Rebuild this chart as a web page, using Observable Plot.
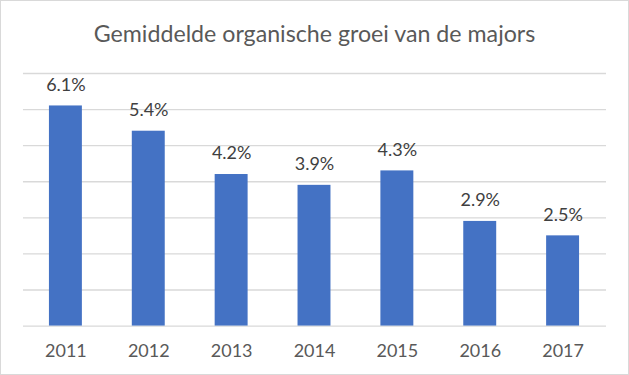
<!DOCTYPE html>
<html>
<head>
<meta charset="utf-8">
<script src="https://cdn.jsdelivr.net/npm/d3@7"></script>
<script src="https://cdn.jsdelivr.net/npm/@observablehq/plot@0.6"></script>
<style>
  html, body { margin: 0; padding: 0; background: #fff; }
  #wrap { position: relative; width: 629px; height: 375px; box-sizing: border-box; border: 1px solid #d9d9d9; background: #fff; overflow: hidden; }
  #title { position: absolute; left: 0; top: 18px; width: 627px; text-align: center; font-family: Lato, "Open Sans", sans-serif; font-size: 23.2px; color: #595959; }
  #chart { position: absolute; left: -1px; top: 59px; }
</style>
</head>
<body>
<div id="wrap">
  <div id="title">Gemiddelde organische groei van de majors</div>
  <div id="chart"></div>
</div>
<script>
const years = ["2011", "2012", "2013", "2014", "2015", "2016", "2017"];
const growth = [6.1, 5.4, 4.2, 3.9, 4.3, 2.9, 2.5];
const gridTicks = [0, 1, 2, 3, 4, 5, 6, 7];

const data = years.map((y, i) => ({year: y, value: growth[i]}));

const plot = Plot.plot({
  width: 629,
  height: 316,
  marginTop: 13,
  marginBottom: 50,
  marginLeft: 23,
  marginRight: 22,
  style: {fontFamily: "Lato, 'Open Sans', sans-serif", background: "transparent"},
  x: {domain: years, paddingInner: 0.6, paddingOuter: 0.3, label: null},
  y: {domain: [0, 7], axis: null},
  marks: [
    Plot.ruleY(gridTicks, {stroke: "#d9d9d9", strokeWidth: 1.3}),
    Plot.barY(data, {x: "year", y: "value", fill: "#4472c4"}),
    Plot.text(data, {x: "year", y: "value", text: d => d.value.toFixed(1) + "%", dy: -21, fontSize: 18, fill: "#404040"}),
    Plot.axisX({tickSize: 0, tickPadding: 18, fontSize: 18, color: "#595959", label: null})
  ]
});
document.getElementById("chart").appendChild(plot);
</script>
</body>
</html>
